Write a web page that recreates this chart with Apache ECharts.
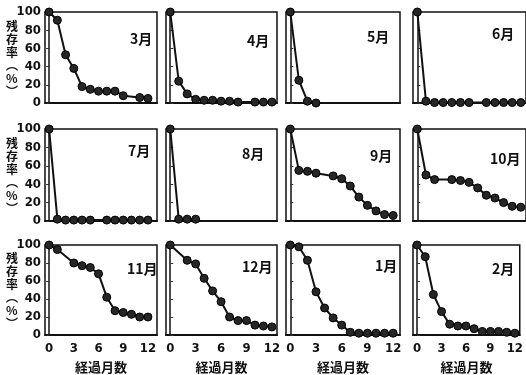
<!DOCTYPE html>
<html><head><meta charset="utf-8">
<script src="https://cdn.jsdelivr.net/npm/echarts@6/dist/echarts.min.js"></script>
<style>html,body{margin:0;padding:0;background:#fff;}#c{width:526px;height:375px;}</style>
</head><body><div id="c"></div>
<script>
// Panel titles (month of start)
const panelNames = ['3月','4月','5月','6月','7月','8月','9月','10月','11月','12月','1月','2月'];
// Elapsed months (x) and survival rate % (y) for each panel
const x3 = [0,1,2,3,4,5,6,7,8,9,11,12];
const y3 = [100,91,53,38,18,15,13,13,13,8,6,5];
const x4 = [0,1,2,3,4,5,6,7,8,10,11,12];
const y4 = [100,24,10,4,3,3,2,2,1,1,1,1];
const x5 = [0,1,2,3];
const y5 = [100,25,2,0];
const x6 = [0,1,2,3,4,5,6,8,9,10,11,12];
const y6 = [100,2,0.5,0.5,0.5,0.5,0.5,0.5,0.5,0.5,0.5,0.5];
const x7 = [0,1,2,3,4,5,7,8,9,10,11,12];
const y7 = [100,2,1,1,1,1,1,1,1,1,1,1];
const x8 = [0,1,2,3];
const y8 = [100,2,2,2];
const x9 = [0,1,2,3,5,6,7,8,9,10,11,12];
const y9 = [100,55,54,52,49,46,38,26,17,11,7,6];
const x10 = [0,1,2,4,5,6,7,8,9,10,11,12];
const y10 = [100,50,45,45,44,42,36,28,25,20,16,15];
const x11 = [0,1,3,4,5,6,7,8,9,10,11,12];
const y11 = [100,95,80,77,75,68,42,27,25,23,20,20];
const x12 = [0,2,3,4,5,6,7,8,9,10,11,12];
const y12 = [100,83,79,63,49,37,20,16,16,11,10,9];
const x1 = [0,1,2,3,4,5,6,7,8,9,10,11,12];
const y1 = [100,98,83,48,30,19,11,3,2,2,2,2,2];
const x2 = [0,1,2,3,4,5,6,7,8,9,10,11,12];
const y2 = [100,87,45,26,12,10,10,7,4,4,4,3,2];
// Axis ticks
const xTicks = [0,3,6,9,12];
const yTicks = [0,20,40,60,80,100];
const xName = '経過月数';
const yName = '残\n存\n率\n︵\n%\n︶';

const panelX = [x3,x4,x5,x6,x7,x8,x9,x10,x11,x12,x1,x2];
const panelY = [y3,y4,y5,y6,y7,y8,y9,y10,y11,y12,y1,y2];

// layout
const colLeft = [45,166,286,413];
const colWidth = [112,111,114,114];
const colMax = [13.1,12.6,12.8,12.6];
const rowTop = [12,129,245];
const rowHeight = [91,92,90];
const titlePos = [[80,23],[76,25],[76,21],[74,18],[78,18],[71,21],[79,23],[72,26],[77,20],[71,18],[84,17],[74,20]];

const numFont = "'Liberation Sans Narrow','DejaVu Sans Condensed','Liberation Sans',sans-serif";
const cjkFont = "'Noto Sans CJK JP',sans-serif";

const grids=[], xAxes=[], yAxes=[], series=[], titles=[], graphics=[];
for (let i=0;i<12;i++){
  const r=Math.floor(i/4), c=i%4;
  grids.push({left:colLeft[c], top:rowTop[r], width:colWidth[c], height:rowHeight[r],
    show:true, borderColor:'#111', borderWidth:1.5, backgroundColor:'transparent', containLabel:false});
  const bottom = r===2;
  xAxes.push({gridIndex:i, type:'value', min:-0.5, max:colMax[c],
    axisLine:{show:true, onZero:false, lineStyle:{color:'#111', width:2}},
    axisTick:{show:false},
    splitLine:{show:false},
    axisLabel:{show:bottom, customValues:xTicks, color:'#111', fontSize:13, fontWeight:'bold', fontFamily:numFont, margin:7},
    name: bottom ? xName : '', nameLocation:'middle', nameGap:26,
    nameTextStyle:{color:'#111', fontSize:13, fontWeight:'bold', fontFamily:cjkFont}
  });
  const left = c===0;
  yAxes.push({gridIndex:i, type:'value', min:0, max:100, interval:20,
    axisLine:{show:true, lineStyle:{color:'#111', width:1.5}},
    axisTick:{show:true, inside:!left, length:3, lineStyle:{color:'#333'}},
    splitLine:{show:false},
    axisLabel:{show:left, color:'#111', fontSize:13, fontWeight:'bold', fontFamily:numFont, margin:4}
  });
  series.push({type:'line', xAxisIndex:i, yAxisIndex:i,
    data: panelX[i].map((m,k)=>[m, panelY[i][k]]),
    symbol:'circle', symbolSize:8, clip:false,
    lineStyle:{color:'#111', width:2},
    itemStyle:{color:'#262626', borderColor:'#000', borderWidth:1},
    emphasis:{disabled:true}, animation:false, z:3
  });
  titles.push({text:panelNames[i], left:colLeft[c]+titlePos[i][0], top:rowTop[r]+titlePos[i][1]-8,
    textStyle:{fontSize:14, fontWeight:'bold', color:'#111', fontFamily:cjkFont}});
  if (left){
    graphics.push({type:'text', left:6, top:rowTop[r]+rowHeight[r]/2-38,
      style:{text:yName, fontSize:12, fontWeight:'bold', lineHeight:13, fill:'#111', fontFamily:cjkFont, align:'center'}});
  }
}

const chart = echarts.init(document.getElementById('c'), null, {renderer:'canvas'});
chart.setOption({
  animation:false, backgroundColor:'#fff',
  title:titles, grid:grids, xAxis:xAxes, yAxis:yAxes, series:series, graphic:graphics
});
</script></body></html>
